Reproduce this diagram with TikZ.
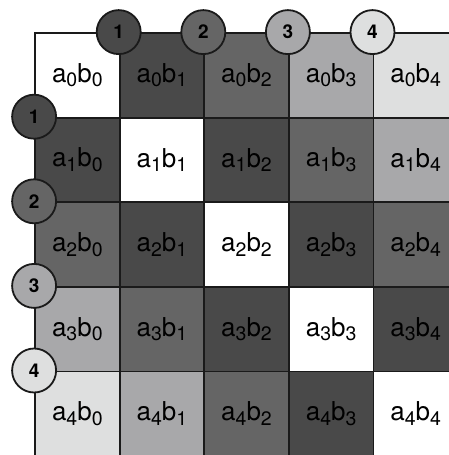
\documentclass[tikz,border=0pt]{standalone}
\usepackage{fontspec}
\setmainfont{TeX Gyre Heros}

% cell shades by distance |i-j| from the diagonal
\definecolor{shade0}{HTML}{FFFFFF}
\definecolor{shade1}{HTML}{494949}
\definecolor{shade2}{HTML}{656565}
\definecolor{shade3}{HTML}{A8A8AA}
\definecolor{shade4}{HTML}{DEDFDF}
\definecolor{lineC}{HTML}{1A1A1A}

% lowered index digit
\newcommand\lo[1]{\raisebox{-4.5pt}{\fontsize{19.5}{19.5}\selectfont#1}}
\newcommand\prodlabel[2]{a\lo{#1}b\lo{#2}}

\begin{document}
\begin{tikzpicture}[x=1pt,y=-1pt,
  cellbox/.style={draw=lineC, line width=1.8pt, minimum width=84.6pt,
    minimum height=84.6pt, inner sep=0pt,
    font=\fontsize{26}{26}\selectfont, text=black},
  badge/.style={circle, draw=lineC, line width=1.8pt, minimum size=44pt,
    inner sep=0pt, font=\fontsize{19}{19}\selectfont\bfseries, text=black}]
\useasboundingbox (0,0) rectangle (449,455);
\clip (0,0) rectangle (449,455);

% the 5x5 grid of products
\foreach \i in {0,...,4} {
  \foreach \j in {0,...,4} {
    \pgfmathtruncatemacro\d{abs(\i-\j)}
    \node[cellbox, fill=shade\d] (c-\i-\j)
      at ({35+84.6*(\j+0.5)},{33+84.6*(\i+0.5)}) {\prodlabel{\i}{\j}};
  }
}

% numbered markers on the top and left borders
\foreach \k in {1,...,4} {
  \node[badge, fill=shade\k] (top\k) at (c-0-\k.north west) {\k};
  \node[badge, fill=shade\k] (left\k) at (c-\k-0.north west) {\k};
}
\end{tikzpicture}
\end{document}
